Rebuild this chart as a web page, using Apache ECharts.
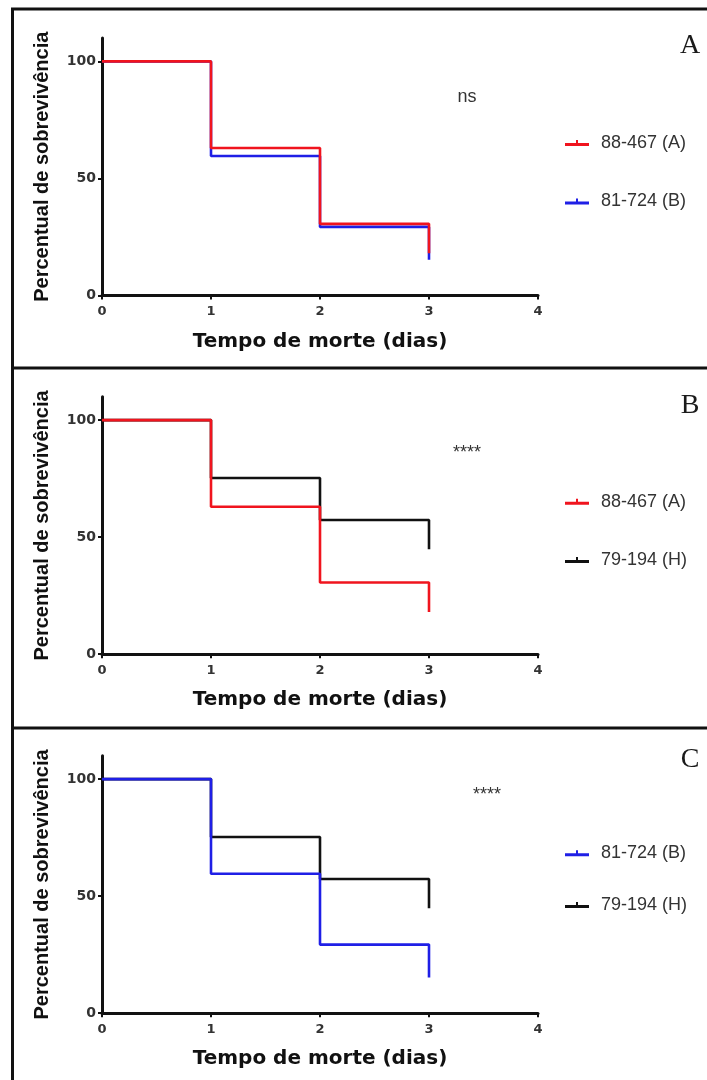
<!DOCTYPE html>
<html>
<head>
<meta charset="utf-8">
<script src="https://cdn.jsdelivr.net/npm/echarts@6/dist/echarts.min.js"></script>
<style>
html,body{margin:0;padding:0;background:#fff;}
#chart{width:707px;height:1080px;}
</style>
</head>
<body>
<div id="chart"></div>
<script>
// ---- data ----
const days = [0, 1, 2, 3];
const xTicks = [0, 1, 2, 3, 4];
const yTicks = [0, 50, 100];
const strain88467 = [100, 63, 30.6, 18];
const strain81724 = [100, 59.6, 29.3, 15.3];
const strain79194 = [100, 75.3, 57.3, 44.8];
const name88467 = '88-467 (A)';
const name81724 = '81-724 (B)';
const name79194 = '79-194 (H)';
const panelLetters = ['A', 'B', 'C'];
const panelStats = ['ns', '****', '****'];
const yTitle = 'Percentual de sobrevivência';
const xTitle = 'Tempo de morte (dias)';

// panel composition: [first series, second series] (second drawn on top)
const panels = [
  [[name81724, strain81724], [name88467, strain88467]],
  [[name79194, strain79194], [name88467, strain88467]],
  [[name79194, strain79194], [name81724, strain81724]]
];
const legendOrder = [
  [name88467, name81724],
  [name88467, name79194],
  [name81724, name79194]
];

const colors = {};
colors[name88467] = '#f0141e';
colors[name81724] = '#1f1fe6';
colors[name79194] = '#111111';

// ---- layout ----
const gridTops = [38, 396.7, 755.7];
const gridH = 257.5;
const gridLeft = 102;
const gridW = 436;

const legendTops = [134, 492.7, 844.3];
const legendGaps = [40.4, 40.3, 33.7];
const letterY = [46, 406, 760];
const statPos = [[467, 97.5], [467, 453], [487, 795]];

const iconPath = 'path://M0,3 L11,3 L11,0 L13,0 L13,3 L24,3 L24,6 L0,6 Z';

const grids = [], xAxes = [], yAxes = [], series = [], legends = [], graphics = [];

panels.forEach((p, i) => {
  grids.push({ left: gridLeft, top: gridTops[i], width: gridW, height: gridH });
  xAxes.push({
    type: 'value', gridIndex: i, min: 0, max: 4, interval: 1,
    name: xTitle, nameLocation: 'middle', nameGap: 36,
    nameTextStyle: { fontFamily: 'DejaVu Sans', fontWeight: 'bold', fontSize: 20, color: '#111' },
    axisLine: { show: true, lineStyle: { color: '#111', width: 3 } },
    axisTick: { show: true, length: 4, lineStyle: { color: '#111', width: 2 } },
    axisLabel: { margin: 10, fontFamily: 'DejaVu Sans', fontWeight: 'bold', fontSize: 13, color: '#333',
      customValues: xTicks },
    splitLine: { show: false }
  });
  yAxes.push({
    type: 'value', gridIndex: i, min: 0, max: 110, interval: 50,
    name: yTitle, nameLocation: 'middle', nameGap: 50,
    nameTextStyle: { fontFamily: 'Liberation Sans', fontWeight: 'bold', fontSize: 20, color: '#111' },
    axisLine: { show: true, lineStyle: { color: '#111', width: 3 } },
    axisTick: { show: true, length: 4, lineStyle: { color: '#111', width: 2 }, customValues: yTicks },
    axisLabel: { margin: 6, fontFamily: 'DejaVu Sans', fontWeight: 'bold', fontSize: 14, color: '#333',
      customValues: yTicks },
    splitLine: { show: false }
  });
  p.forEach(([nm, vals]) => {
    series.push({
      type: 'line', name: nm, xAxisIndex: i, yAxisIndex: i, step: 'end',
      data: days.map((d, k) => [d, vals[k]]),
      showSymbol: false, symbol: 'none',
      lineStyle: { color: colors[nm], width: 2.6 },
      itemStyle: { color: colors[nm] },
      emphasis: { disabled: true },
      animation: false
    });
  });
  legends.push({
    orient: 'vertical', left: 565, top: legendTops[i], itemGap: legendGaps[i],
    itemWidth: 24, itemHeight: 6, padding: 0, icon: iconPath,
    data: legendOrder[i].map(n => ({ name: n, icon: iconPath, itemStyle: { color: colors[n] } })),
    textStyle: { fontFamily: 'Liberation Sans', fontSize: 18, color: '#333', padding: [0, 0, 0, 7] },
    selectedMode: false
  });
  graphics.push({
    type: 'text', x: 690, y: letterY[i],
    style: { text: panelLetters[i], font: '28px "Liberation Serif"', fill: '#1a1a1a',
      textAlign: 'center', textVerticalAlign: 'middle' }
  });
  graphics.push({
    type: 'text', x: statPos[i][0], y: statPos[i][1],
    style: { text: panelStats[i], font: '18px "Liberation Sans"', fill: '#333',
      textAlign: 'center', textVerticalAlign: 'middle' }
  });
});

// panel frame lines
const frameStyle = { stroke: '#111', lineWidth: 3 };
[9, 368, 728].forEach(y => {
  graphics.push({ type: 'line', shape: { x1: 11, y1: y, x2: 707, y2: y }, style: frameStyle });
});
graphics.push({ type: 'line', shape: { x1: 12.5, y1: 8, x2: 12.5, y2: 1080 }, style: frameStyle });

const chart = echarts.init(document.getElementById('chart'), null, { renderer: 'canvas' });
chart.setOption({
  animation: false,
  backgroundColor: '#ffffff',
  grid: grids,
  xAxis: xAxes,
  yAxis: yAxes,
  legend: legends,
  series: series,
  graphic: graphics
});
</script>
</body>
</html>
